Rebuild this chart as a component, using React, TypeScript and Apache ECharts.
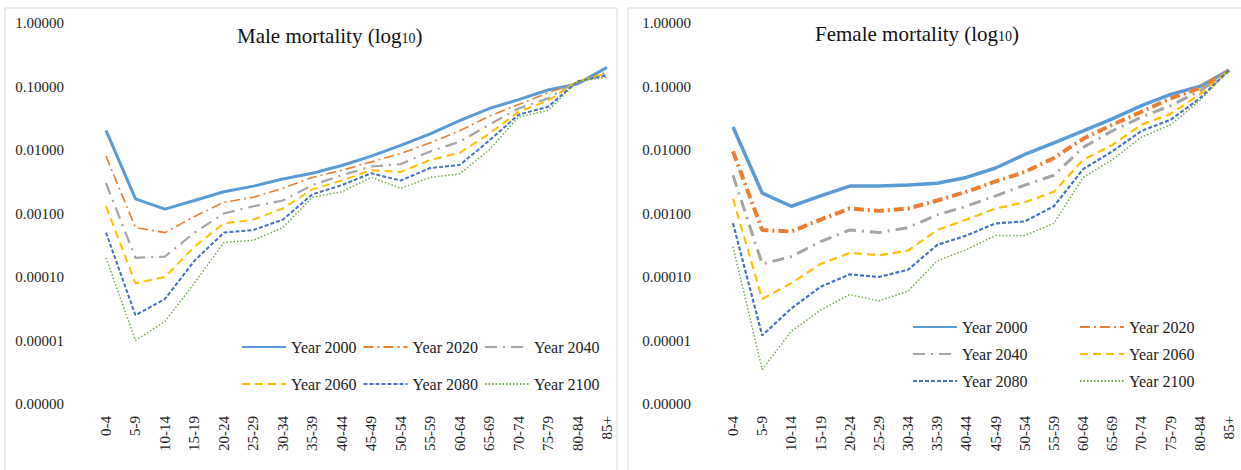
import React, { useEffect, useRef } from "react";
import * as echarts from "echarts";

const ageGroups = ["0-4","5-9","10-14","15-19","20-24","25-29","30-34","35-39","40-44","45-49","50-54","55-59","60-64","65-69","70-74","75-79","80-84","85+"];
const yTicks = [0.000001, 0.00001, 0.0001, 0.001, 0.01, 0.1, 1];
const seriesNames = ["Year 2000","Year 2020","Year 2040","Year 2060","Year 2080","Year 2100"];

const male2000 = [0.0204,0.0017,0.00117,0.0016,0.0022,0.0027,0.0035,0.0043,0.0057,0.008,0.0118,0.018,0.029,0.045,0.062,0.088,0.11,0.2];
const male2020 = [0.008,0.0006,0.0005,0.0009,0.0015,0.0018,0.0025,0.0037,0.0048,0.0065,0.0088,0.013,0.02,0.034,0.052,0.08,0.115,0.17];
const male2040 = [0.003,0.0002,0.00021,0.0005,0.001,0.0013,0.0016,0.0028,0.004,0.0055,0.006,0.0095,0.0135,0.025,0.045,0.065,0.12,0.16];
const male2060 = [0.0013,0.00008,0.0001,0.0003,0.0007,0.0008,0.0012,0.0024,0.0033,0.0048,0.0045,0.007,0.009,0.018,0.04,0.06,0.12,0.16];
const male2080 = [0.0005,0.000025,0.000045,0.00018,0.0005,0.00055,0.0008,0.002,0.0028,0.0043,0.0033,0.0052,0.0058,0.014,0.036,0.048,0.12,0.15];
const male2100 = [0.0002,0.00001,0.00002,0.00008,0.00035,0.00038,0.0006,0.0018,0.0022,0.0037,0.0025,0.0037,0.0042,0.01,0.033,0.042,0.12,0.14];

const female2000 = [0.023,0.0021,0.0013,0.0019,0.0027,0.0027,0.0028,0.003,0.0037,0.0052,0.0085,0.013,0.02,0.031,0.05,0.075,0.1,0.18];
const female2020 = [0.0095,0.00055,0.00052,0.0008,0.0012,0.0011,0.0012,0.0016,0.0022,0.0032,0.0045,0.0075,0.015,0.025,0.04,0.065,0.095,0.18];
const female2040 = [0.004,0.00016,0.00021,0.00036,0.00055,0.0005,0.0006,0.00095,0.0013,0.0019,0.0028,0.004,0.011,0.02,0.033,0.05,0.085,0.18];
const female2060 = [0.0017,0.000045,0.00008,0.00016,0.00024,0.00022,0.00026,0.00055,0.0008,0.0012,0.0015,0.0022,0.007,0.012,0.025,0.037,0.075,0.18];
const female2080 = [0.0007,0.000012,0.000032,0.00007,0.00011,0.0001,0.00013,0.00032,0.00045,0.0007,0.00075,0.0013,0.005,0.0095,0.02,0.03,0.065,0.18];
const female2100 = [0.0003,0.0000035,0.000014,0.00003,0.000053,0.000042,0.00006,0.00018,0.00027,0.00045,0.00045,0.0007,0.0037,0.007,0.016,0.025,0.06,0.18];

const maleData = [male2000, male2020, male2040, male2060, male2080, male2100];
const femaleData = [female2000, female2020, female2040, female2060, female2080, female2100];

const colors = ["#5B9BD5","#ED7D31","#A5A5A5","#FFC000","#4472C4","#70AD47"];
const dashes: any[] = ["solid",[10,4,2,4],[12,6,2,6],[8,5],[4,2],[1.5,2]];
const maleWidths = [3,1.6,2.2,2,2,1.5];
const femaleWidths = [3.5,4,3,2.2,2.2,1.5];

const FONT = "Liberation Serif";

export default function App() {
  const ref = useRef<HTMLDivElement>(null);
  useEffect(() => {
    const chart = echarts.init(ref.current!, undefined, { renderer: "svg" });
    const yAxisBase = (gi: number) => ({
      type: "log", logBase: 10, min: yTicks[0], max: yTicks[yTicks.length - 1], gridIndex: gi,
      axisLine: { show: false }, axisTick: { show: false }, splitLine: { show: false }, minorTick: { show: false },
      axisLabel: { formatter: (v: number) => v.toFixed(5), fontFamily: FONT, fontSize: 15, color: "#222", margin: 42 },
    });
    const xAxisBase = (gi: number) => ({
      type: "category", data: ageGroups, boundaryGap: false, gridIndex: gi,
      axisLine: { show: false }, axisTick: { show: false },
      axisLabel: { rotate: 90, fontFamily: FONT, fontSize: 15, color: "#222", interval: 0, margin: 12 },
    });
    const mkSeries = (data: number[][], widths: number[], gi: number) =>
      data.map((d, i) => ({
        name: seriesNames[i], type: "line", xAxisIndex: gi, yAxisIndex: gi, data: d,
        symbol: "none",
        lineStyle: { color: colors[i], width: widths[i], type: dashes[i] },
        itemStyle: { color: colors[i] },
      }));
    const legendText = { fontFamily: FONT, fontSize: 16, color: "#222" };
    const legItem = { opacity: 0, borderWidth: 0 };
    const titleRich = (t: string) => ({
      text: `{a|${t} (log}{b|10}{a|)}`,
      textStyle: { rich: { a: { fontFamily: FONT, fontSize: 21, fontWeight: "normal", color: "#111" }, b: { fontFamily: FONT, fontSize: 14, fontWeight: "normal", color: "#111", padding: [6, 0, 0, 0] } } },
    });
    chart.setOption({
      animation: false,
      graphic: [
        { type: "rect", shape: { x: 5, y: 8, width: 612, height: 470 }, style: { fill: "none", stroke: "#d9d9d9", lineWidth: 1 } },
        { type: "rect", shape: { x: 628, y: 8, width: 620, height: 470 }, style: { fill: "none", stroke: "#d9d9d9", lineWidth: 1 } },
      ],
      title: [
        { ...titleRich("Male mortality"), left: 232, top: 20 },
        { ...titleRich("Female mortality"), left: 810, top: 18 },
      ],
      grid: [
        { left: 106, right: 1241 - 607, top: 23, bottom: 470 - 404 },
        { left: 733, right: 12, top: 23, bottom: 470 - 404 },
      ],
      xAxis: [xAxisBase(0), xAxisBase(1)],
      yAxis: [yAxisBase(0), yAxisBase(1)],
      legend: [
        { data: seriesNames.slice(0, 3), left: 236, top: 334, itemWidth: 44, itemHeight: 10, itemGap: 6, itemStyle: legItem, textStyle: legendText },
        { data: seriesNames.slice(3, 6), left: 236, top: 371, itemWidth: 44, itemHeight: 10, itemGap: 6, itemStyle: legItem, textStyle: legendText },
        { data: [seriesNames[0], seriesNames[2], seriesNames[4]], left: 907, top: 314, orient: "vertical", itemGap: 11, itemWidth: 44, itemHeight: 10, itemStyle: legItem, textStyle: legendText },
        { data: [seriesNames[1], seriesNames[3], seriesNames[5]], left: 1074, top: 314, orient: "vertical", itemGap: 11, itemWidth: 44, itemHeight: 10, itemStyle: legItem, textStyle: legendText },
      ],
      series: [...mkSeries(maleData, maleWidths, 0), ...mkSeries(femaleData, femaleWidths, 1)],
    });
    return () => chart.dispose();
  }, []);
  return <div ref={ref} style={{ width: 1241, height: 470, position: "absolute", left: 0, top: 0, background: "#fff" }} />;
}
